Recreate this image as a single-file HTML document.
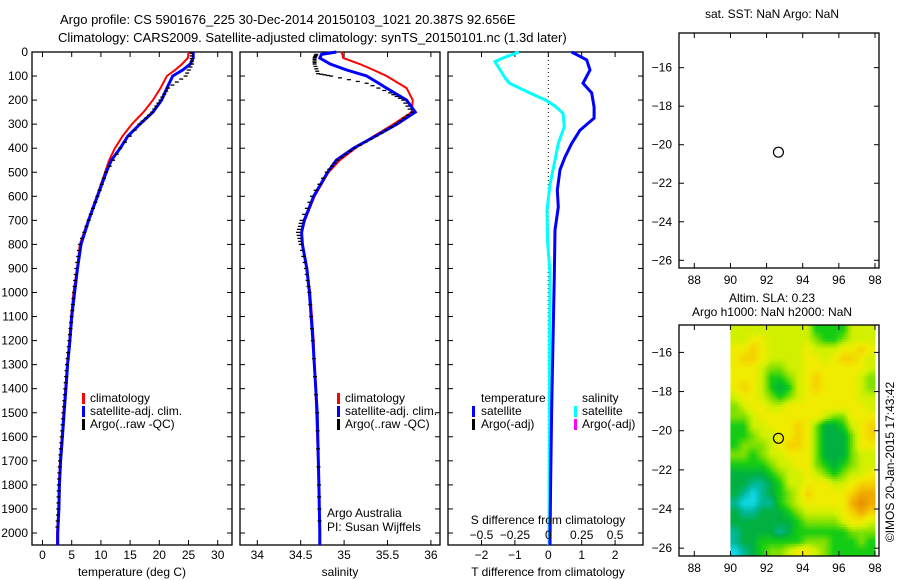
<!DOCTYPE html>
<html><head><meta charset="utf-8"><style>
body{margin:0;background:#fff;width:900px;height:580px;overflow:hidden}
svg{display:block;font-family:"Liberation Sans",sans-serif;font-size:12px}
</style></head><body>
<svg id="fig" width="900" height="580" viewBox="0 0 900 580">
<text x="60" y="24" font-size="13">Argo profile: CS 5901676_225 30-Dec-2014 20150103_1021 20.387S 92.656E</text>
<text x="58" y="42" font-size="13">Climatology: CARS2009. Satellite-adjusted climatology: synTS_20150101.nc (1.3d later)</text>
<text x="772" y="18" text-anchor="middle">sat. SST: NaN Argo: NaN</text>
<text x="772" y="302" text-anchor="middle">Altim. SLA: 0.23</text>
<text x="772" y="316" text-anchor="middle">Argo h1000: NaN h2000: NaN</text>
<text transform="translate(894,462) rotate(-90)" text-anchor="middle">©IMOS 20-Jan-2015 17:43:42</text>
<g id="plots"></g>
</svg>
<script>
// ---- data ----
const depthT = [0,25,50,75,100,150,200,250,300,350,400,450,500,600,700,800,900,1000,1100,1200,1300,1400,1500,1600,1700,1800,1900,2000,2050];
const tempClim = [25.0,24.9,23.9,22.7,21.3,20.2,18.9,17.3,15.3,13.7,12.4,11.4,10.7,9.3,7.8,6.4,5.9,5.3,4.9,4.6,4.2,3.9,3.6,3.3,3.0,2.8,2.7,2.5,2.5];
const tempSat = [25.8,25.8,25.3,24.0,22.3,21.3,20.4,18.9,16.7,14.6,13.3,11.8,10.9,9.4,7.9,6.6,6.0,5.5,5.0,4.7,4.3,4.0,3.7,3.4,3.1,2.9,2.8,2.6,2.6];
const depthArgo = [5,50,100,150,200,250,300,400,500,600,700,800,900,1000,1100,1200,1300,1400,1500,1600,1700,1800,1900,2000];
const tempArgo = [25.5,25.6,24.5,21.5,20.2,18.8,16.6,13.3,10.9,9.4,7.9,6.4,5.8,5.4,5.0,4.6,4.2,3.9,3.6,3.3,3.0,2.8,2.7,2.5];
const depthS = [0,10,25,50,75,100,150,200,250,300,350,400,450,500,600,700,750,800,900,1000,1200,1500,1800,2000,2050];
const salClim = [34.97,34.98,34.99,35.18,35.34,35.49,35.72,35.79,35.78,35.57,35.34,35.13,34.95,34.82,34.66,34.55,34.51,34.52,34.57,34.61,34.65,34.68,34.71,34.72,34.72];
const salSat = [34.91,34.74,34.72,34.84,35.03,35.26,35.49,35.72,35.82,35.61,35.36,35.11,34.91,34.81,34.65,34.54,34.51,34.52,34.57,34.60,34.64,34.69,34.71,34.72,34.72];
const depthSA = [10,25,50,90,100,130,170,200,250,300,350,400,450,500,600,700,750,800,900,1000,1200,1500,1800,2000];
const salArgo = [34.68,34.66,34.66,34.70,34.85,35.26,35.53,35.68,35.78,35.60,35.37,35.12,34.92,34.80,34.63,34.51,34.47,34.50,34.56,34.60,34.64,34.69,34.71,34.72];
const depthD = [0,33,75,130,170,230,275,325,380,437,490,575,645,740,935,1200,1500,1800,2050];
const tDiff = [0.70,1.15,1.25,1.04,1.30,1.37,1.37,0.95,0.70,0.50,0.35,0.27,0.30,0.20,0.18,0.14,0.10,0.07,0.05];
const depthSD = [0,25,40,75,110,130,170,200,225,255,310,380,450,550,660,790,920,1200,1500,2050];
const sDiff = [-0.22,-0.34,-0.40,-0.36,-0.32,-0.29,-0.14,-0.02,0.05,0.11,0.12,0.075,0.05,0.013,-0.01,-0.005,0.013,0.01,0.008,0.005];
const depthTicks = [0,100,200,300,400,500,600,700,800,900,1000,1100,1200,1300,1400,1500,1600,1700,1800,1900,2000];
const tTicks = [0,5,10,15,20,25,30];
const sTicks = [34,34.5,35,35.5,36];
const dTTicks = [-2,-1,0,1,2];
const dSTicks = [-0.5,-0.25,0,0.25,0.5];
const dSTickLabels = ['−0.5','−0.25','0','0.25','0.5'];
const lonTicks = [88,90,92,94,96,98];
const latTicks = [-16,-18,-20,-22,-24,-26];
const argoLon = 92.656, argoLat = -20.387;
const slaGrid = [
"5555555553333555","5566555554334555","6676555565556676","6776555566567765",
"6665445566666665","6665334567666654","6765323567666654","5665434566666655",
"4566556666666665","4456666666544666","3355666764223567","3345566764222467",
"3444567764222466","4434556664222455","3333455664323455","2222345565434556",
"2211235566655677","2101234576666788","1001134566666898","2112223455556787",
"2222222344445665","1222212333333444","1223333344433343","0123445665433333"];
const slaLon0 = 90, slaLon1 = 98, slaLat0 = -14.6, slaLat1 = -26.4;

// ---- helpers ----
const NS='http://www.w3.org/2000/svg';
const root=document.getElementById('plots');
function mk(tag,attrs,parent){const e=document.createElementNS(NS,tag);for(const k in attrs)e.setAttribute(k,attrs[k]);(parent||root).appendChild(e);return e;}
function txt(x,y,s,anchor,parent){const e=mk('text',{x:x,y:y,'text-anchor':anchor||'start'},parent);e.textContent=s;return e;}
const Y0=52, Y1=545;
const yD = d => Y0 + d*0.2405;
function frame(x0,x1,y0,y1,name){const r=mk('rect',{x:x0,y:y0,width:x1-x0,height:y1-y0,fill:'none',stroke:'#000','stroke-width':1.3});

return r;}
function vticks(x0,x1,ys){ys.forEach(y=>{mk('line',{x1:x0,x2:x0+5,y1:y,y2:y,stroke:'#000'});mk('line',{x1:x1-5,x2:x1,y1:y,y2:y,stroke:'#000'});});}
function hticks(y0,y1,xs){xs.forEach(x=>{mk('line',{x1:x,x2:x,y1:y0,y2:y0+5,stroke:'#000'});mk('line',{x1:x,x2:x,y1:y1-5,y2:y1,stroke:'#000'});});}
function line(xs,ds,fx,color,w,name){const pts=xs.map((v,i)=>fx(v).toFixed(1)+','+yD(ds[i]).toFixed(1)).join(' ');
const p=mk('polyline',{points:pts,fill:'none',stroke:color,'stroke-width':w});

return p;}
function dots(xs,ds,fx,name){const g=mk('g',{});


for(let i=0;i<xs.length-1;i++){for(let k=0;k<4;k++){const f=k/4;const d=ds[i]+(ds[i+1]-ds[i])*f;const v=xs[i]+(xs[i+1]-xs[i])*f;
mk('line',{x1:fx(v)-2,x2:fx(v)+2,y1:yD(d),y2:yD(d),stroke:'#000','stroke-width':1.3},g);}}}
function legendMark(x,y,color){mk('rect',{x:x,y:y-9,width:3,height:11,fill:color});}

// ---- panel 1: temperature ----
const fT = v => 42.5 + v*5.84;
frame(32,232,Y0,Y1,'temperature-panel');
vticks(32,232,depthTicks.map(yD));
hticks(Y0,Y1,tTicks.map(fT));
depthTicks.forEach(d=>{txt(28,yD(d)+4,String(d),'end');});
tTicks.forEach(v=>txt(fT(v),559,String(v),'middle'));
txt(132,576,'temperature (deg C)','middle');
line(tempClim,depthT,fT,'#ff0000',2,'temp-climatology-line');
line(tempSat,depthT,fT,'#0000ff',3,'temp-satellite-line');
dots(tempArgo,depthArgo,fT,'temp-argo-line');
legendMark(82,402,'#ff0000');txt(90,402,'climatology');
legendMark(82,415,'#0000ff');txt(90,415,'satellite-adj. clim.');
legendMark(82,428,'#000');txt(90,428,'Argo(..raw -QC)');

// ---- panel 2: salinity ----
const fS = v => 257.3 + (v-34)*86.8;
frame(240,440,Y0,Y1,'salinity-panel');
vticks(240,440,depthTicks.map(yD));
hticks(Y0,Y1,sTicks.map(fS));
sTicks.forEach(v=>txt(fS(v),559,String(v),'middle'));
txt(340,576,'salinity','middle');
line(salClim,depthS,fS,'#ff0000',2,'sal-climatology-line');
line(salSat,depthS,fS,'#0000ff',3,'sal-satellite-line');
dots(salArgo,depthSA,fS,'sal-argo-line');
legendMark(337,402,'#ff0000');txt(345,402,'climatology');
legendMark(337,415,'#0000ff');txt(345,415,'satellite-adj. clim.');
legendMark(337,428,'#000');txt(345,428,'Argo(..raw -QC)');
txt(327,517,'Argo Australia');txt(327,531,'PI: Susan Wijffels');

// ---- panel 3: differences ----
const fDT = v => 548.3 + v*33.4;
const fDS = v => 548.3 + v*133.6;
frame(448,643,Y0,Y1,'difference-panel');
vticks(448,643,depthTicks.map(yD));
hticks(Y0,Y1,dTTicks.map(fDT));
mk('line',{x1:fDT(0),x2:fDT(0),y1:Y0,y2:Y1,stroke:'#000','stroke-dasharray':'1,3'});
line(sDiff,depthSD,fDS,'#00ffff',3,'sal-diff-line');
line(tDiff,depthD,fDT,'#0000ff',3,'temp-diff-line');
dTTicks.forEach(v=>txt(fDT(v),559,String(v).replace('-','−'),'middle'));
dSTicks.forEach((v,i)=>txt(fDS(v),539,dSTickLabels[i],'middle'));
txt(548,524,'S difference from climatology','middle');
txt(548,576,'T difference from climatology','middle');
txt(481,402,'temperature');txt(582,402,'salinity');
legendMark(472,415,'#0000ff');txt(481,415,'satellite');
legendMark(472,428,'#000');txt(481,428,'Argo(-adj)');
legendMark(574,415,'#00ffff');txt(582,415,'satellite');
legendMark(574,428,'#ff00ff');txt(582,428,'Argo(-adj)');

// ---- maps ----
const fLon = v => 694.3 + (v-88)*18.07;
function latScale(y0,y1,latTop,latBot){ return v => y0 + (latTop - v)/(latTop-latBot)*(y1-y0); }
// map 1 (SST)
const fLat1 = latScale(33,268,-14.2,-26.4);
frame(679,879,33,268,'sst-map');
hticks(33,268,lonTicks.map(fLon));
latTicks.forEach(v=>{const y=fLat1(v);mk('line',{x1:679,x2:684,y1:y,y2:y,stroke:'#000'});mk('line',{x1:874,x2:879,y1:y,y2:y,stroke:'#000'});txt(672,y+4,String(v).replace('-','−'),'end');});
lonTicks.forEach(v=>txt(fLon(v),284,String(v),'middle'));
const c1=mk('circle',{cx:fLon(argoLon),cy:fLat1(argoLat),r:5,fill:'none',stroke:'#000','stroke-width':1.2});


// map 2 (SLA) - smooth interpolated heatmap
const fLat2 = latScale(325,556,-14.6,-26.4);
const stops=[[0,[16,216,232]],[1,[0,184,150]],[2,[0,176,64]],[3,[20,204,20]],[4,[128,224,0]],[5,[208,240,0]],[6,[240,236,0]],[7,[244,210,0]],[8,[240,170,0]],[9,[232,140,0]]];
function col(v){v=Math.max(0,Math.min(9,v));const i=Math.min(8,Math.floor(v)),f=v-i;const a=stops[i][1],b=stops[i+1][1];
return 'rgb('+a.map((c,k)=>Math.round(c+(b[k]-c)*f)).join(',')+')';}
const heat=mk('g',{});


const nr=slaGrid.length, nc=slaGrid[0].length;
function val(r,c){r=Math.max(0,Math.min(nr-1,r));c=Math.max(0,Math.min(nc-1,c));return +slaGrid[r][c];}
const SUB=4;
for(let r=0;r<nr*SUB;r++){for(let c=0;c<nc*SUB;c++){
  const gr=(r+0.5)/SUB-0.5, gc=(c+0.5)/SUB-0.5;
  const r0=Math.floor(gr), c0=Math.floor(gc), fr=gr-r0, fc=gc-c0;
  const v=(val(r0,c0)*(1-fc)+val(r0,c0+1)*fc)*(1-fr)+(val(r0+1,c0)*(1-fc)+val(r0+1,c0+1)*fc)*fr;
  const lonA=slaLon0+(slaLon1-slaLon0)*c/(nc*SUB), lonB=slaLon0+(slaLon1-slaLon0)*(c+1)/(nc*SUB);
  const latA=slaLat0+(slaLat1-slaLat0)*r/(nr*SUB), latB=slaLat0+(slaLat1-slaLat0)*(r+1)/(nr*SUB);
  const x=fLon(lonA), y=fLat2(latA);
  mk('rect',{x:x.toFixed(2),y:y.toFixed(2),width:(fLon(lonB)-x+0.5).toFixed(2),height:(fLat2(latB)-y+0.5).toFixed(2),fill:col(v)},heat);
}}
frame(679,879,325,556,'sla-map');
hticks(325,556,lonTicks.map(fLon));
latTicks.forEach(v=>{const y=fLat2(v);mk('line',{x1:679,x2:684,y1:y,y2:y,stroke:'#000'});mk('line',{x1:874,x2:879,y1:y,y2:y,stroke:'#000'});txt(672,y+4,String(v).replace('-','−'),'end');});
lonTicks.forEach(v=>txt(fLon(v),572,String(v),'middle'));
const c2=mk('circle',{cx:fLon(argoLon),cy:fLat2(argoLat),r:5,fill:'none',stroke:'#000','stroke-width':1.2});


</script>
</body></html>
